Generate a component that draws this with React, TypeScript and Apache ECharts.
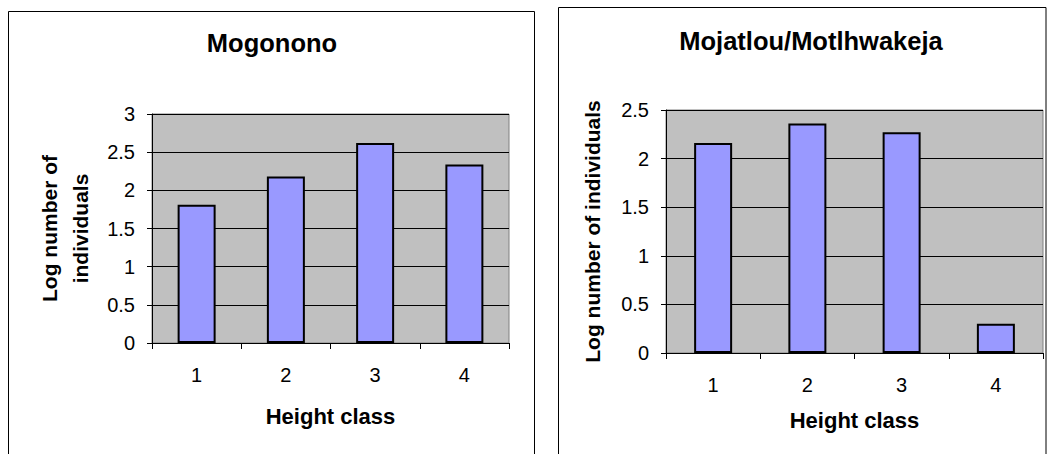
import React, { useEffect, useRef } from "react";
import * as echarts from "echarts";

// Height classes shared by both sites
const heightClasses = ["1", "2", "3", "4"];

// Log number of individuals per height class
const mogononoValues = [1.81, 2.18, 2.62, 2.34];
const mojatlouValues = [2.16, 2.36, 2.27, 0.3];

const siteTitles = ["Mogonono", "Mojatlou/Motlhwakeja"];
const yAxisTitles = ["Log number of\nindividuals", "Log number of individuals"];
const xAxisTitle = "Height class";

const FONT = '"Liberation Sans", Arial, Helvetica, sans-serif';
const BAR_FILL = "#9999FF";
const PLOT_BG = "#C0C0C0";

export default function App() {
  const ref = useRef<HTMLDivElement>(null);

  useEffect(() => {
    if (!ref.current) return;
    const chart = echarts.init(ref.current, undefined, { renderer: "svg" });

    const grids = [
      { left: 152, top: 114, width: 357, height: 229 },
      { left: 666, top: 110, width: 377, height: 243 },
    ];

    const yMax = [3, 2.5];
    const yNameGap = [56, 58];
    const xNameGap = [62, 56];

    chart.setOption({
      animation: false,
      backgroundColor: "#ffffff",
      title: [
        {
          text: siteTitles[0],
          left: 272,
          top: 30,
          textAlign: "center",
          padding: 0,
          textStyle: { fontFamily: FONT, fontWeight: "bold", fontSize: 25.5, color: "#000" },
        },
        {
          text: siteTitles[1],
          left: 811,
          top: 28,
          textAlign: "center",
          padding: 0,
          textStyle: { fontFamily: FONT, fontWeight: "bold", fontSize: 25.5, color: "#000" },
        },
      ],
      graphic: [
        {
          type: "rect",
          silent: true,
          shape: { x: 8.5, y: 11.5, width: 526, height: 470 },
          style: { fill: "none", stroke: "#000", lineWidth: 1 },
        },
        {
          type: "rect",
          silent: true,
          shape: { x: 558.5, y: 7.5, width: 487.5, height: 470 },
          style: { fill: "none", stroke: "#000", lineWidth: 1 },
        },
      ],
      grid: grids.map((g) => ({
        ...g,
        show: true,
        backgroundColor: PLOT_BG,
        borderColor: "#808080",
        borderWidth: 1,
        containLabel: false,
      })),
      xAxis: [0, 1].map((i) => ({
        type: "category",
        gridIndex: i,
        data: heightClasses,
        boundaryGap: true,
        name: xAxisTitle,
        nameLocation: "middle",
        nameGap: xNameGap[i],
        nameTextStyle: { fontFamily: FONT, fontWeight: "bold", fontSize: 22, color: "#000" },
        axisLine: { show: true, lineStyle: { color: "#000", width: 1 } },
        axisTick: { show: true, length: 6, alignWithLabel: false, lineStyle: { color: "#000" } },
        axisLabel: { fontFamily: FONT, fontSize: 20, color: "#000", margin: 22 },
        splitLine: { show: false },
      })),
      yAxis: [0, 1].map((i) => ({
        type: "value",
        gridIndex: i,
        min: 0,
        max: yMax[i],
        interval: 0.5,
        name: yAxisTitles[i],
        nameLocation: "middle",
        nameRotate: 90,
        nameGap: yNameGap[i],
        nameTextStyle: {
          fontFamily: FONT,
          fontWeight: "bold",
          fontSize: 21,
          color: "#000",
          lineHeight: 31,
        },
        axisLine: { show: true, lineStyle: { color: "#000", width: 1 } },
        axisTick: { show: true, length: 5, lineStyle: { color: "#000" } },
        axisLabel: { fontFamily: FONT, fontSize: 20, color: "#000", margin: 17 },
        splitLine: { show: true, lineStyle: { color: "#000", width: 1 } },
      })),
      series: [mogononoValues, mojatlouValues].map((values, i) => ({
        type: "bar",
        xAxisIndex: i,
        yAxisIndex: i,
        data: values,
        barWidth: 38,
        itemStyle: { color: BAR_FILL, borderColor: "#000", borderWidth: 2 },
      })),
    });

    return () => chart.dispose();
  }, []);

  return (
    <div
      ref={ref}
      style={{ position: "absolute", left: 0, top: 0, width: 1053, height: 454 }}
    />
  );
}
